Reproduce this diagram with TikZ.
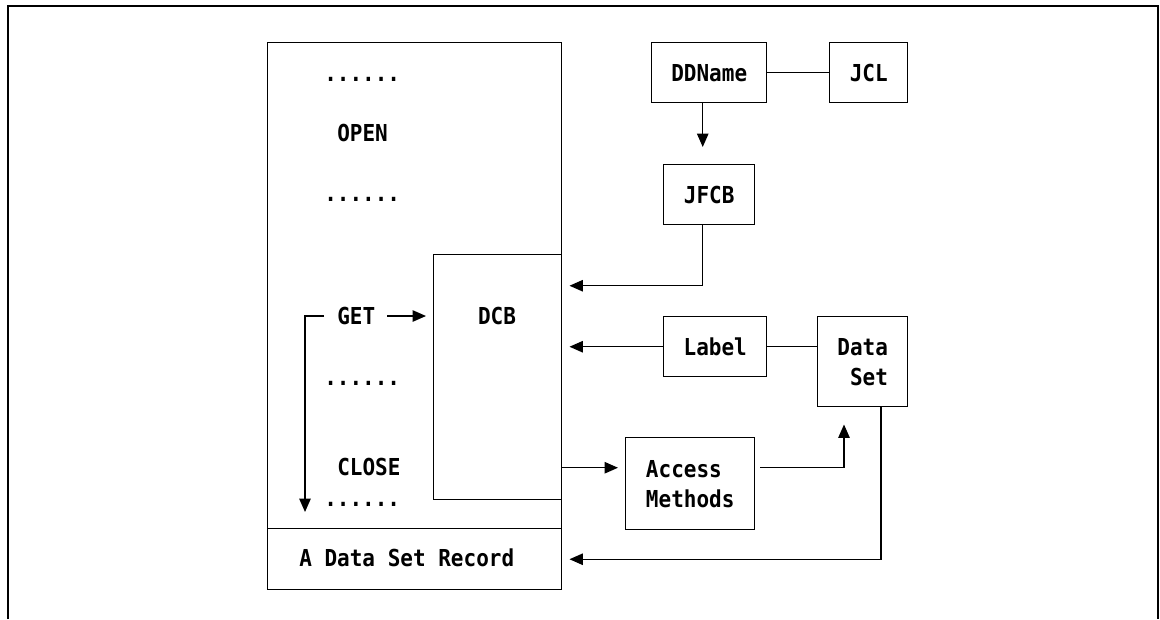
\documentclass[tikz,border=0pt]{standalone}
\usepackage{fontspec}
\setmonofont[FakeStretch=0.9]{DejaVu Sans Mono}
\usetikzlibrary{arrows.meta}
\begin{document}
\begin{tikzpicture}[x=0.75pt,y=-0.75pt,
  every node/.style={font=\fontsize{17.5pt}{22.5pt}\selectfont\ttfamily\bfseries},
  line/.style={line width=1.1pt},
  arr/.style={line width=1.1pt,-{Triangle[length=10pt,width=8.5pt]}},
  box/.style={draw,line width=1.1pt,inner sep=0pt,rectangle},
  txt/.style={inner sep=0pt}]
\useasboundingbox (0,0) rectangle (1160,619);
\draw[line] (8,619) -- (8,6) -- (1158,6) -- (1158,619);
% left column
\node[box,anchor=north west,minimum width=220.5pt,minimum height=364.5pt] (program) at (267,42) {};
\node[box,anchor=north west,minimum width=220.5pt,minimum height=45.75pt] (record) at (267,528) {};
\node[txt,anchor=west] (recordtxt) at (299,558) {A Data Set Record};
\node[box,anchor=north west,minimum width=96pt,minimum height=183.75pt] (dcb) at (433,254) {};
\node[txt] (dcbtxt) at (497,316) {DCB};
\node[txt,anchor=west] (d1) at (324,79) {......};
\node[txt,anchor=west] (open) at (337,133) {OPEN};
\node[txt,anchor=west] (d2) at (324,199) {......};
\node[txt,anchor=west] (get) at (337,316) {GET};
\node[txt,anchor=west] (d3) at (324,383) {......};
\node[txt,anchor=west] (close) at (337,467) {CLOSE};
\node[txt,anchor=west] (d4) at (324,504) {......};
\coordinate (loopend) at (305,512);
% right side boxes
\node[box,anchor=north west,minimum width=86.25pt,minimum height=45pt] (ddname) at (651,42) {DDName};
\node[box,anchor=north west,minimum width=58.5pt,minimum height=45pt] (jcl) at (829,42) {JCL};
\node[box,anchor=north west,minimum width=68.25pt,minimum height=45pt] (jfcb) at (663,164) {JFCB};
\node[box,anchor=north west,minimum width=77.25pt,minimum height=45pt] (label) at (663,316) {Label};
\node[box,anchor=north west,minimum width=67.5pt,minimum height=67.5pt,align=right] (dataset) at (817,316) {Data\\Set};
\node[box,anchor=north west,minimum width=96.75pt,minimum height=69pt,align=left] (access) at (625,437) {Access\\Methods};
% connectors
\draw[arr,shorten >=5.25pt] ([xshift=9pt]get.east) -- (get.east -| dcb.west);
\draw[arr] ([xshift=-9.75pt]get.west) -| (loopend);
\draw[line] (ddname) -- (jcl);
\draw[arr,shorten >=12.75pt] ([xshift=-4.875pt]ddname.south) -- ([xshift=-4.875pt]jfcb.north);
\draw[arr,shorten >=5.25pt] ([xshift=-4.875pt]jfcb.south) |- (program.east);
\draw[arr,shorten >=5.25pt] (label.west) -- (label.west -| program.east);
\draw[line] (label.east) -- (label.east -| dataset.west);
\coordinate (amw) at ([yshift=12pt]access.west);
\coordinate (ame) at ([yshift=12pt]access.east);
\coordinate (dsin) at ([xshift=20.25pt]dataset.south west);
\coordinate (dsout) at ([xshift=48pt]dataset.south west);
\draw[arr,shorten >=5.25pt] (amw -| program.east) -- (amw);
\draw[arr,shorten >=12.75pt] ([xshift=3.75pt]ame) -| (dsin);
\draw[arr,shorten >=5.25pt] (dsout) |- (record.east);
\end{tikzpicture}
\end{document}
